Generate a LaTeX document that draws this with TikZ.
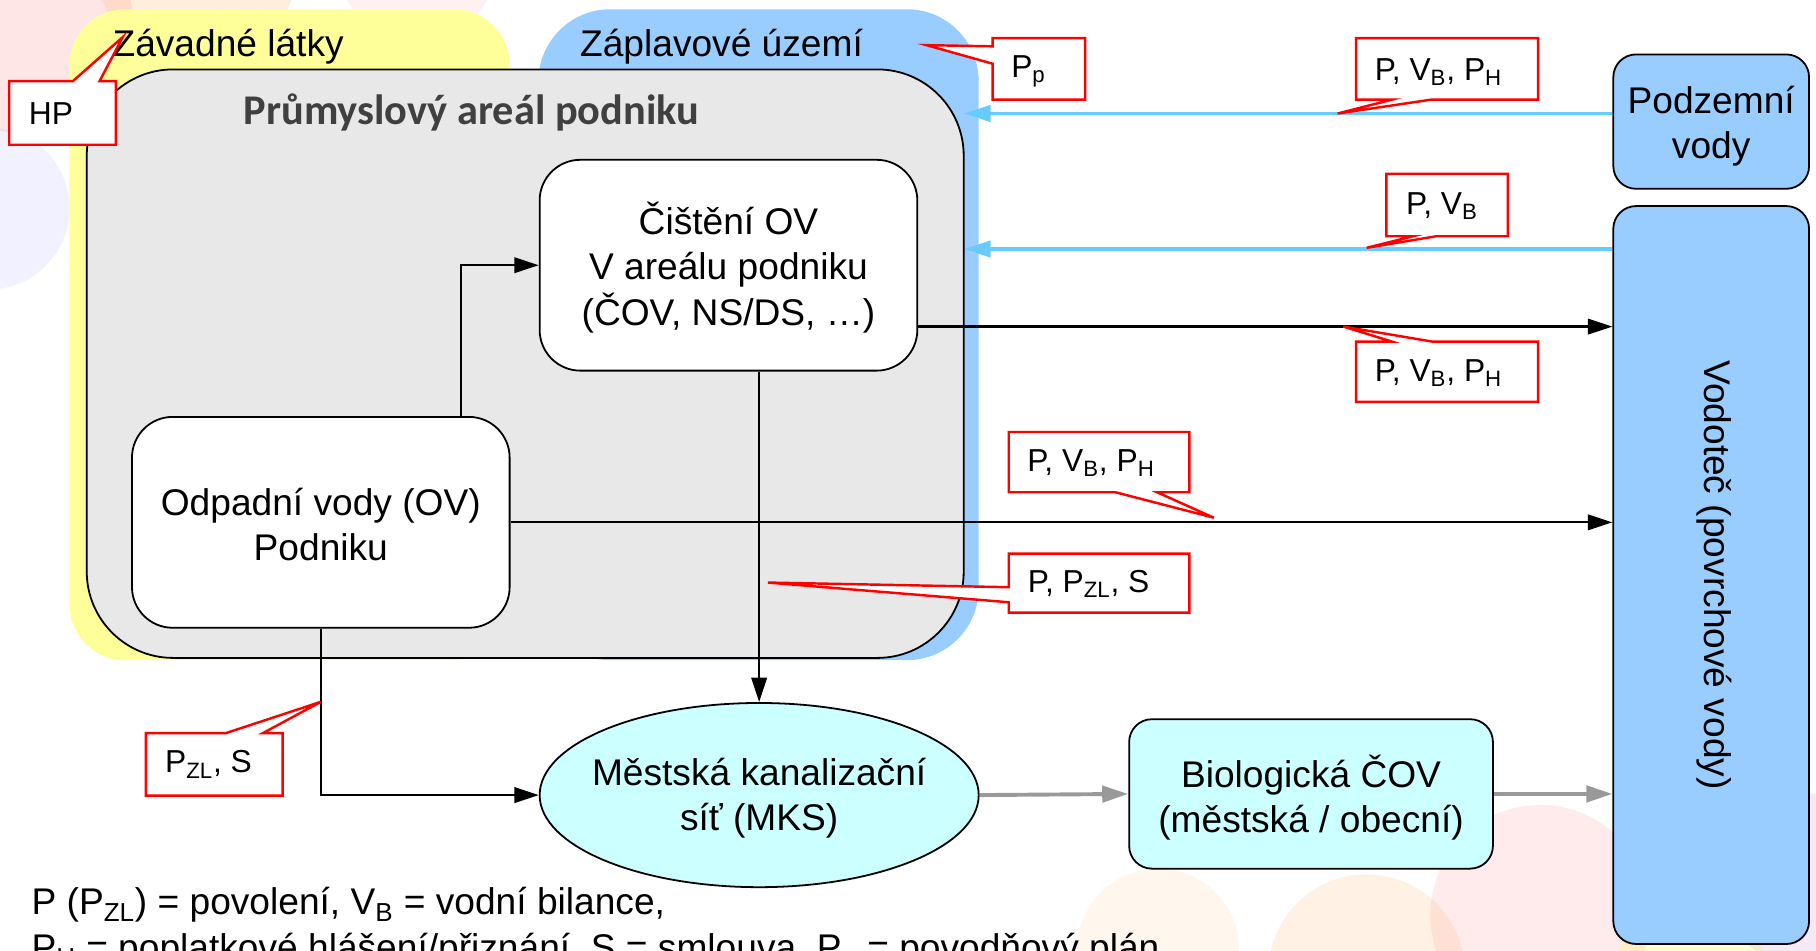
\documentclass[tikz,border=0pt]{standalone}
\usepackage{fontspec}
\setmainfont{Liberation Sans}
\newfontfamily\carlito{Carlito}
\usetikzlibrary{arrows.meta,shapes.geometric}
\newcommand\mfs{\fontsize{22.8}{27.7}\selectfont}
\newcommand\lfs{\fontsize{19.5}{23}\selectfont}
\definecolor{yel}{HTML}{FFFF99}
\definecolor{flood}{HTML}{99CCFF}
\definecolor{arealc}{HTML}{E8E8E8}
\definecolor{cyanf}{HTML}{CCFFFF}
\definecolor{lblue}{HTML}{66CCFF}
\definecolor{garrow}{HTML}{999999}
\definecolor{titlegray}{HTML}{404040}
\tikzset{
  box/.style={draw=black, line width=1.1pt, rounded corners=25pt, fill=white, align=center, inner sep=0pt, font=\mfs},
  txt/.style={font=\mfs, align=center, inner sep=0pt},
  callout/.style={draw=red, line width=1.5pt, fill=white, line join=miter},
  lbl/.style={font=\lfs, inner sep=0pt},
  arr/.style={line width=1.4pt, -{Triangle[length=15pt,width=9.5pt]}},
  barr/.style={draw=lblue, line width=2.4pt, -{Triangle[length=16pt,width=10pt]}},
  garr/.style={draw=garrow, line width=2.4pt, -{Triangle[length=16pt,width=10pt]}},
  blob/.style={fill opacity=0.22}
}
\begin{document}
\begin{tikzpicture}[x=0.025cm,y=-0.025cm]
\useasboundingbox (0,0) rectangle (1568,821);
% background decoration
\begin{scope}
\clip (0,0) rectangle (1568,821);
\fill[blob, red!45] (20,20) circle (95);
\fill[blob, orange!60] (170,-25) circle (85);
\fill[blob, pink] (360,-35) circle (70);
\fill[blob, blue!25] (-10,180) circle (70);
\fill[blob, orange!50] (1180,840) circle (85);
\fill[blob, red!35] (1330,790) circle (95);
\fill[blob, violet!40] (1560,760) circle (75);
\fill[blob, yellow!80] (1460,840) circle (65);
\fill[blob, orange!30] (1000,820) circle (70);
\end{scope}
% regions
\fill[yel, rounded corners=34pt] (60,8) rectangle (440,570);
\fill[flood, rounded corners=44pt] (465,8) rectangle (845,570);
\node[draw=black, line width=1.1pt, fill=arealc, rounded corners=53pt, minimum width=18.925cm, minimum height=12.7cm, inner sep=0pt] (areal) at (453.5,314) {};
\node[txt] (zavt) at (197,40) {Závadné látky};
\node[txt] (zapt) at (623,40) {Záplavové území};
\node[font=\carlito\bfseries\fontsize{26}{30}\selectfont, text=titlegray, inner sep=0pt] (arealt) at (407,97) {Průmyslový areál podniku};
% boxes
\node[box, minimum width=8.15cm, minimum height=4.55cm] (cis) at (629,229) {};
\node[txt] (cist) at (629,231) {Čištění OV\\V areálu podniku\\(ČOV, NS/DS, …)};
\node[box, minimum width=8.15cm, minimum height=4.55cm] (odp) at (277,451) {};
\node[txt] (odpt) at (277,453) {Odpadní vody (OV)\\Podniku};
\node[box, fill=flood, rounded corners=14pt, minimum width=4.225cm, minimum height=2.9cm] (pod) at (1477.5,105) {};
\node[txt] (podt) at (1477.5,109) {Podzemní\\vody};
\node[box, fill=flood, rounded corners=14pt, minimum width=4.225cm, minimum height=15.925cm] (vod) at (1477.5,496.5) {};
\node[txt, rotate=-90] (vodt) at (1480,496.5) {Vodoteč (povrchové vody)};
\node[draw=black, line width=1.1pt, fill=cyanf, ellipse, minimum width=9.475cm, minimum height=3.975cm, inner sep=0pt] (mks) at (655.5,686.5) {};
\node[txt] (mkst) at (655.5,689) {Městská kanalizační\\síť (MKS)};
\node[box, fill=cyanf, rounded corners=14pt, minimum width=7.85cm, minimum height=3.225cm] (bio) at (1132,685.5) {};
\node[txt] (biot) at (1132,689) {Biologická ČOV\\(městská / obecní)};
% helper coordinates
\coordinate (c1) at (398,0);
\coordinate (r1) at (0,282);
\coordinate (b1) at (0,98);
\coordinate (b2) at (0,215);
% connectors
\draw[arr] (odp.north -| c1) |- (cis.west);
\draw[arr] (cis.east |- r1) -- (vod.west |- r1);
\draw[arr] (odp.east) -- (vod.west |- odp.east);
\draw[arr] (cis.south -| mks.north) -- (mks.north);
\draw[arr] (odp.south) |- (mks.west);
\draw[barr] (pod.west |- b1) -- (areal.east |- b1);
\draw[barr] (vod.west |- b2) -- (areal.east |- b2);
\draw[garr] (mks.east) -- (bio.west);
\draw[garr] (bio.east) -- (vod.west |- bio.east);
% callouts
\draw[callout] (8,70) -- (63,70) -- (106,32) -- (86,70) -- (100,70) -- (100,125) -- (8,125) -- cycle;
\node[lbl] (hp) at (44,98) {HP};
\draw[callout] (857,33) -- (937,33) -- (937,86) -- (857,86) -- (857,55) -- (800,39) -- (857,40) -- cycle;
\node[lbl] (pp) at (888,62) {P\textsubscript{p}};
\draw[callout] (1171,33) -- (1328,33) -- (1328,86) -- (1236,86) -- (1155,98) -- (1202,86) -- (1171,86) -- cycle;
\node[lbl] (l1) at (1242,62) {P, V\textsubscript{B}, P\textsubscript{H}};
\draw[callout] (1197,150) -- (1302,150) -- (1302,204) -- (1240,204) -- (1180,214) -- (1220,204) -- (1197,204) -- cycle;
\node[lbl] (l2) at (1245,178) {P, V\textsubscript{B}};
\draw[callout] (1171,295) -- (1202,295) -- (1160,282) -- (1237,295) -- (1328,295) -- (1328,347) -- (1171,347) -- cycle;
\node[lbl] (l3) at (1242,322) {P, V\textsubscript{B}, P\textsubscript{H}};
\draw[callout] (871,373) -- (1027,373) -- (1027,425) -- (999,425) -- (1048,447) -- (963,425) -- (871,425) -- cycle;
\node[lbl] (l4) at (942,400) {P, V\textsubscript{B}, P\textsubscript{H}};
\draw[callout] (871,478) -- (1027,478) -- (1027,529) -- (871,529) -- (871,520) -- (663,503) -- (871,507) -- cycle;
\node[lbl] (l5) at (940,504) {P, P\textsubscript{ZL}, S};
\draw[callout] (126,633) -- (195,633) -- (277,606) -- (227,633) -- (244,633) -- (244,687) -- (126,687) -- cycle;
\node[lbl] (l6) at (180,660) {P\textsubscript{ZL}, S};
% legend
\node[font=\mfs, anchor=base west, inner sep=0pt] (leg1) at (27,790) {P (P\textsubscript{ZL}) = povolení, V\textsubscript{B} = vodní bilance,};
\node[font=\mfs, anchor=base west, inner sep=0pt] (leg2) at (27,829) {P\textsubscript{H} = poplatkové hlášení/přiznání, S = smlouva, P\textsubscript{p} = povodňový plán};
\end{tikzpicture}
\end{document}
